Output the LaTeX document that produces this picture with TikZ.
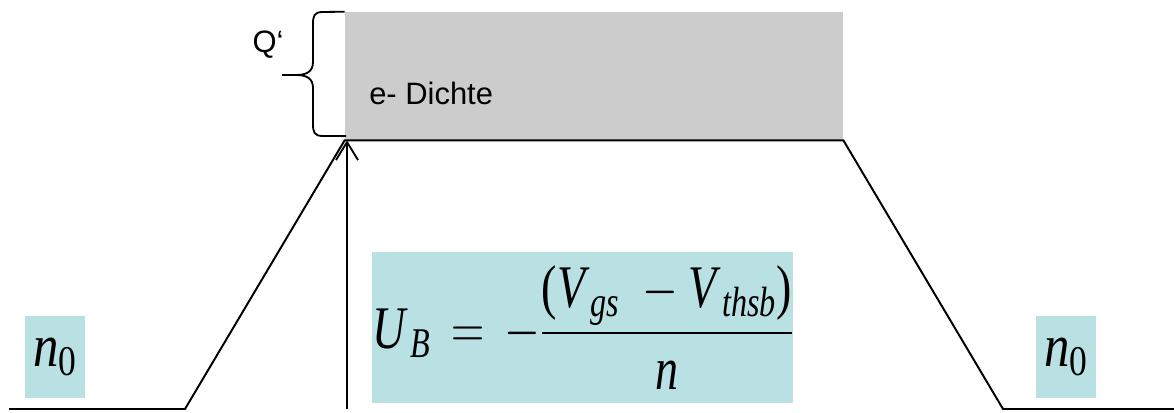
\RequirePackage{fix-cm}
\documentclass[tikz,border=0pt]{standalone}
\usepackage{amsmath}
\usepackage{graphicx}
\usepackage{fontspec}
\setmainfont{Liberation Sans}
\newfontfamily\tms{Liberation Serif}
\newcommand{\ti}[1]{\text{\tms\itshape #1}}
\newcommand{\tu}[1]{\text{\tms #1}}
\newcommand{\schmal}[2][0.84]{\scalebox{#1}[1]{#2}}
\usetikzlibrary{arrows.meta,calc,positioning}
\definecolor{dichtegrau}{RGB}{204,204,204}
\definecolor{pastelcyan}{RGB}{185,224,227}
\tikzset{
  ladung/.style={
    fill=dichtegrau,
    inner sep=0pt,
    minimum width=12.45cm,
    minimum height=3.2cm
  },
  formel/.style={
    fill=pastelcyan,
    inner sep=0pt,
    align=center,
    font=\fontsize{43}{50}\selectfont
  },
  label/.style={
    inner sep=0pt,
    font=\fontsize{22}{26}\selectfont
  },
  verlauf/.style={
    line width=1.4pt,
    line join=miter
  },
  pfeil/.style={
    -{Straight Barb[length=4.5mm,width=5.5mm]},
    line width=1.3pt
  }
}

\begin{document}
\begin{tikzpicture}[x=0.025cm,y=-0.025cm]
\useasboundingbox (0,0) rectangle (1174,413);
% Ladungsdichte
\node[ladung] (dichte) at (594,76) {};
\node[label,anchor=west] (edichte) at (369,93) {e- Dichte};
% Potentialverlauf
\coordinate (l0) at (9,409);
\coordinate (l1) at (185,409);
\coordinate (r1) at (1003,409);
\coordinate (r0) at (1174,409);
\draw[verlauf] (l0) -- (l1) -- (dichte.south west) -- (dichte.south east) -- (r1) -- (r0);
% Klammer Q'
\draw[line width=1.3pt] (dichte.north west) -- (323,12)
  .. controls (314,12) and (313,16) .. (313,24) -- (313,62)
  .. controls (313,72) and (306,75) .. (296,75) -- (282,75) -- (296,75)
  .. controls (306,75) and (313,78) .. (313,88) -- (313,124)
  .. controls (313,132) and (314,136) .. (323,136) -- (346,136);
\node[label] (q) at (268,45) {Q‘};
% Pfeil
\coordinate (fuss) at (347,409);
\draw[pfeil] (fuss) -- (fuss |- dichte.south);
% Formeln
\node[formel,minimum width=10.525cm,minimum height=3.775cm] (ub) at (582.5,327.5)
  {\schmal[0.76]{$\ti{U}_{\,\ti{B}} \,=\, -\dfrac{\tu{(}\ti{V}_{\,\ti{gs}}\; - \ti{V}_{\,\ti{thsb}}\tu{)}}{\ti{n}}$}};
\node[formel,minimum width=1.5cm,minimum height=2.05cm] (nl) at (55,357) {\schmal{$\ti{n}_{\tu{0}}$}};
\node[formel,minimum width=1.5cm,minimum height=2.05cm] (nr) at (1066,357) {\schmal{$\ti{n}_{\tu{0}}$}};
\end{tikzpicture}
\end{document}
